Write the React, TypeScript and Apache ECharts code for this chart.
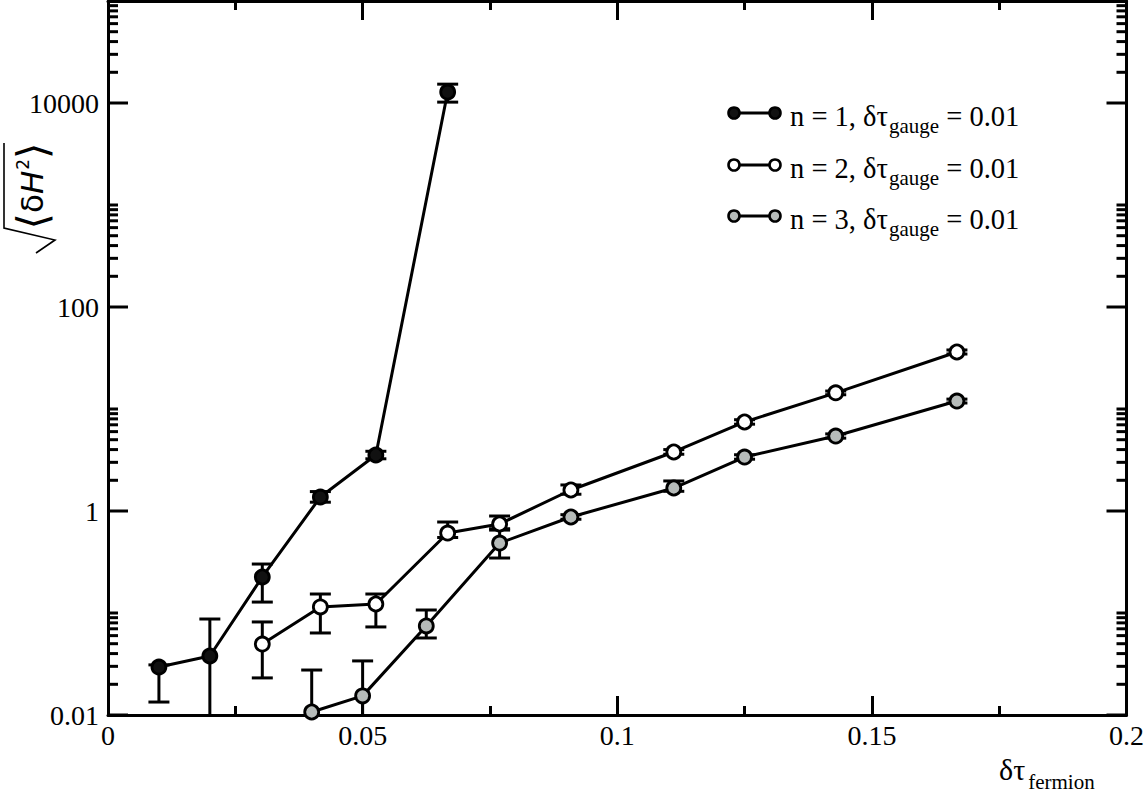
import React, { useEffect, useRef } from 'react';
import * as echarts from 'echarts';

// Series data (x = δτ_fermion, y = sqrt(<δH^2>), with lower / upper error limits)
const xN1 = [0.01, 0.02, 0.0303, 0.0417, 0.0526, 0.0667];
const yN1 = [0.0295, 0.0379, 0.2255, 1.37, 3.54, 12800];
const loN1 = [0.0134, 0.001, 0.128, 1.22, 3.25, 10200];
const hiN1 = [0.031, 0.0873, 0.302, 1.55, 3.85, 15300];

const xN2 = [0.0303, 0.0417, 0.0526, 0.0667, 0.0769, 0.0909, 0.1111, 0.125, 0.1429, 0.1667];
const yN2 = [0.0496, 0.1146, 0.1225, 0.608, 0.746, 1.607, 3.79, 7.46, 14.4, 36.2];
const loN2 = [0.0231, 0.0637, 0.073, 0.55, 0.67, 1.46, 3.6, 7.1, 13.8, 34.6];
const hiN2 = [0.0817, 0.1535, 0.1535, 0.78, 0.893, 1.8, 4.0, 7.85, 15.0, 37.9];

const xN3 = [0.04, 0.05, 0.0625, 0.0769, 0.0909, 0.1111, 0.125, 0.1429, 0.1667];
const yN3 = [0.0107, 0.0154, 0.0747, 0.485, 0.873, 1.68, 3.38, 5.43, 11.97];
const loN3 = [0.001, 0.001, 0.0569, 0.346, 0.83, 1.56, 3.22, 5.18, 11.45];
const hiN3 = [0.0276, 0.0339, 0.107, 0.65, 0.92, 1.97, 3.56, 5.7, 12.5];

const seriesNames = ['n = 1', 'n = 2', 'n = 3'];
const seriesFill = ['#111111', '#ffffff', '#b6bbb9'];
const legendSuffix = ', δτ';
const legendSub = 'gauge';
const legendTail = ' = 0.01';

// Axis
const X_MIN = 0;
const X_MAX = 0.2;
const X_INTERVAL = 0.05;
const Y_MIN = 0.01;
const Y_MAX = 100000;
const yLabelValues = [0.01, 1, 100, 10000];
const yLabelTexts = ['0.01', '1', '100', '10000'];
const yMajorTicks = [0.01, 1, 100, 10000];
const yMinorTicks = [
  0.02, 0.03, 0.04, 0.05, 0.06, 0.07, 0.08, 0.09, 0.1,
  2, 3, 4, 5, 6, 7, 8, 9, 10,
  200, 300, 400, 500, 600, 700, 800, 900, 1000,
  20000, 30000, 40000, 50000, 60000, 70000, 80000, 90000,
];

const FONT = '"Liberation Serif", "Times New Roman", serif';
const LW = 3;

export default function App() {
  const ref = useRef<HTMLDivElement>(null);
  useEffect(() => {
    if (!ref.current) return;
    const chart = echarts.init(ref.current, null, { renderer: 'svg' });

    const xs = [xN1, xN2, xN3];
    const ys = [yN1, yN2, yN3];
    const los = [loN1, loN2, loN3];
    const his = [hiN1, hiN2, hiN3];

    const errSeries = xs.map((xv, k) => ({
      type: 'custom',
      name: seriesNames[k] + ' err',
      xAxisIndex: 0,
      yAxisIndex: 0,
      z: 2,
      silent: true,
      encode: { x: 0, y: [1, 2] },
      data: xv.map((x, i) => [x, los[k][i], his[k][i]]),
      renderItem: (params: any, api: any) => {
        const x = api.value(0);
        const loRaw = api.value(1);
        const hi = api.value(2);
        const lo = Math.max(loRaw, Y_MIN);
        const pLo = api.coord([x, lo]);
        const pHi = api.coord([x, hi]);
        const w = 10.5;
        const st = { stroke: '#000', lineWidth: LW };
        const children: any[] = [
          { type: 'line', shape: { x1: pLo[0], y1: pLo[1], x2: pHi[0], y2: pHi[1] }, style: st },
          { type: 'line', shape: { x1: pHi[0] - w, y1: pHi[1], x2: pHi[0] + w, y2: pHi[1] }, style: st },
        ];
        if (loRaw >= Y_MIN) {
          children.push({ type: 'line', shape: { x1: pLo[0] - w, y1: pLo[1], x2: pLo[0] + w, y2: pLo[1] }, style: st });
        }
        return { type: 'group', children };
      },
    }));

    const lineSeries = xs.map((xv, k) => ({
      type: 'line',
      name: seriesNames[k],
      xAxisIndex: 0,
      yAxisIndex: 0,
      z: 3,
      data: xv.map((x, i) => [x, ys[k][i]]),
      symbol: 'circle',
      symbolSize: 14,
      lineStyle: { color: '#000', width: LW },
      itemStyle: { color: seriesFill[k], borderColor: '#000', borderWidth: 2.8 },
    }));

    const tickData = [
      ...yMajorTicks.map((v) => [X_MIN, v, 20]),
      ...yMinorTicks.map((v) => [X_MIN, v, 10]),
    ];
    const tickSeries = {
      type: 'custom',
      name: 'yticks',
      xAxisIndex: 0,
      yAxisIndex: 0,
      z: 1,
      silent: true,
      encode: { x: 0, y: 1 },
      data: tickData,
      renderItem: (params: any, api: any) => {
        const v = api.value(1);
        const len = api.value(2);
        const pl = api.coord([X_MIN, v]);
        const pr = api.coord([X_MAX, v]);
        const st = { stroke: '#000', lineWidth: LW };
        return {
          type: 'group',
          children: [
            { type: 'line', shape: { x1: pl[0], y1: pl[1], x2: pl[0] + len, y2: pl[1] }, style: st },
            { type: 'line', shape: { x1: pr[0], y1: pr[1], x2: pr[0] - len, y2: pr[1] }, style: st },
          ],
        };
      },
    };

    const axisLine = { show: true, onZero: false, lineStyle: { color: '#000', width: LW } };
    const xCommon = {
      type: 'value',
      min: X_MIN,
      max: X_MAX,
      interval: X_INTERVAL,
      axisLine,
      axisTick: { show: true, inside: true, length: 19, lineStyle: { color: '#000', width: LW } },
      minorTick: { show: true, splitNumber: 2, length: 9, lineStyle: { color: '#000', width: LW } },
      splitLine: { show: false },
      minorSplitLine: { show: false },
    };
    const yCommon = {
      type: 'log',
      logBase: 10,
      min: Y_MIN,
      max: Y_MAX,
      axisLine,
      axisTick: { show: false },
      minorTick: { show: false },
      splitLine: { show: false },
      minorSplitLine: { show: false },
    };

    const legendRowsY = [113, 165, 216];
    const legendGraphics: any[] = [];
    legendRowsY.forEach((yy, k) => {
      legendGraphics.push({
        type: 'line',
        shape: { x1: 734, y1: yy, x2: 775, y2: yy },
        style: { stroke: '#000', lineWidth: LW },
      });
      [734, 775].forEach((cx) => {
        legendGraphics.push({
          type: 'circle',
          shape: { cx, cy: yy, r: 5.5 },
          style: { fill: seriesFill[k], stroke: '#000', lineWidth: 2.6 },
        });
      });
      legendGraphics.push({
        type: 'text',
        x: 790,
        y: yy + 4,
        style: {
          text: `{t|${seriesNames[k]}${legendSuffix}}{s|${legendSub}}{t|${legendTail}}`,
          verticalAlign: 'middle',
          align: 'left',
          fill: '#000',
          rich: {
            t: { fontSize: 28.5, fontFamily: FONT, lineHeight: 30, verticalAlign: 'top', fill: '#000' },
            s: { fontSize: 21, fontFamily: FONT, lineHeight: 20, padding: [13, 0, 0, 1], verticalAlign: 'top', fill: '#000' },
          },
        },
      });
    });

    const option: any = {
      animation: false,
      backgroundColor: '#fff',
      grid: { left: 108, right: 18, top: 1, bottom: 82, containLabel: false },
      xAxis: [
        {
          ...xCommon,
          position: 'bottom',
          axisLabel: {
            show: true,
            margin: 6,
            color: '#000',
            fontSize: 28,
            fontFamily: FONT,
            formatter: (v: number) => String(parseFloat(v.toFixed(3))),
          },
        },
        { ...xCommon, position: 'top', axisLabel: { show: false } },
      ],
      yAxis: [
        {
          ...yCommon,
          position: 'left',
          axisLabel: {
            show: true,
            margin: 9,
            color: '#000',
            fontSize: 28,
            fontFamily: FONT,
            formatter: (v: number) => {
              for (let i = 0; i < yLabelValues.length; i++) {
                if (Math.abs(Math.log10(v) - Math.log10(yLabelValues[i])) < 1e-6) return yLabelTexts[i];
              }
              return '';
            },
          },
        },
        { ...yCommon, position: 'right', axisLabel: { show: false } },
      ],
      series: [tickSeries, ...errSeries, ...lineSeries],
      graphic: [
        ...legendGraphics,
        {
          type: 'text',
          x: 999,
          y: 754,
          style: {
            text: '{a|δτ}{b|fermion}',
            align: 'left',
            verticalAlign: 'top',
            rich: {
              a: { fontSize: 30, fontFamily: FONT, lineHeight: 30, verticalAlign: 'top', fill: '#000' },
              b: { fontSize: 21, fontFamily: FONT, lineHeight: 20, padding: [17, 0, 0, 3], verticalAlign: 'top', fill: '#000' },
            },
          },
        },
        {
          type: 'polyline',
          shape: { points: [[36, 253], [55, 240], [4, 228], [4, 143]] },
          style: { stroke: '#000', lineWidth: 1.6, fill: 'none' },
        },
        {
          type: 'text',
          x: 32,
          y: 186,
          rotation: Math.PI / 2,
          style: {
            text: '{b|⟨}{d|δ}{h|H}{s|2}{b|⟩}',
            align: 'center',
            verticalAlign: 'middle',
            rich: {
              b: { fontSize: 42, fontFamily: '"DejaVu Sans", sans-serif', lineHeight: 44, verticalAlign: 'middle', fill: '#000' },
              d: { fontSize: 31, fontFamily: '"DejaVu Sans", sans-serif', lineHeight: 44, verticalAlign: 'middle', fill: '#000' },
              h: { fontSize: 31, fontFamily: '"DejaVu Sans", sans-serif', fontStyle: 'italic', lineHeight: 44, verticalAlign: 'middle', fill: '#000' },
              s: { fontSize: 17, fontFamily: '"DejaVu Sans", sans-serif', lineHeight: 17, verticalAlign: 'top', padding: [4, 0, 0, 1], fill: '#000' },
            },
          },
        },
      ],
    };

    chart.setOption(option);
    return () => chart.dispose();
  }, []);

  return (
    <div
      ref={ref}
      style={{ position: 'fixed', left: 0, top: 0, width: 1147, height: 797, background: '#fff' }}
    />
  );
}
